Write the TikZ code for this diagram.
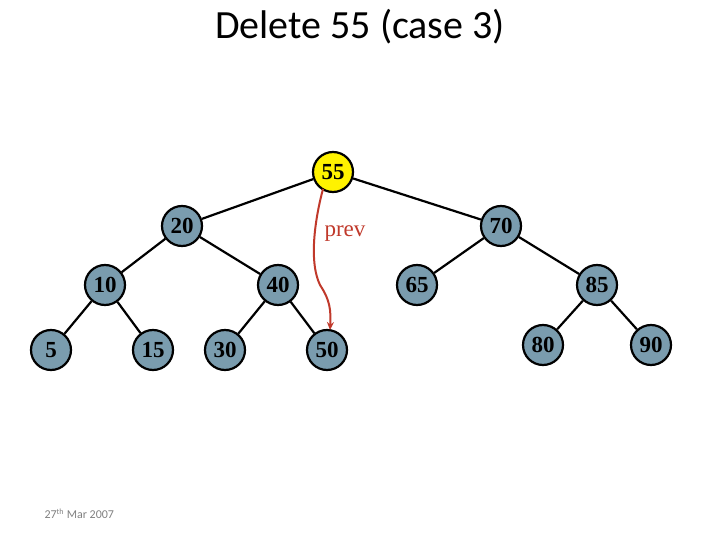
\documentclass[tikz,border=0pt]{standalone}
\usepackage{fontspec}
\setmainfont{Liberation Serif}
\newfontfamily\calib{Carlito}
\usetikzlibrary{arrows.meta}
\definecolor{nodeblue}{RGB}{122,156,174}
\definecolor{arrred}{RGB}{192,57,43}
\definecolor{dategray}{RGB}{128,128,128}
\tikzset{
  tnode/.style={circle,draw=black,line width=2.2pt,fill=nodeblue,minimum size=40pt,inner sep=0pt,font=\fontsize{23}{23}\selectfont\bfseries},
  hl/.style={fill=yellow},
  edge/.style={line width=2.2pt,black},
  prevarrow/.style={line width=2pt,arrred,-{Stealth[length=8pt,width=7pt]}}
}
\begin{document}
\begin{tikzpicture}[x=1pt,y=-1pt]
\useasboundingbox (0,0) rectangle (720,540);
\node[font=\calib\fontsize{40}{40}\selectfont] (title) at (360,27) {Delete 55 (case 3)};
\node[tnode,hl] (n55) at (333,172) {55};
\node[tnode] (n20) at (182,226) {20};
\node[tnode] (n70) at (501,226) {70};
\node[tnode] (n10) at (105,285) {10};
\node[tnode] (n40) at (278,285) {40};
\node[tnode] (n65) at (417,285) {65};
\node[tnode] (n85) at (597,285) {85};
\node[tnode] (n5) at (51,350) {5};
\node[tnode] (n15) at (153,350) {15};
\node[tnode] (n30) at (225,350) {30};
\node[tnode] (n50) at (327,350) {50};
\node[tnode] (n80) at (543,345) {80};
\node[tnode] (n90) at (651,345) {90};
\draw[edge] (n55) -- (n20);
\draw[edge] (n55) -- (n70);
\draw[edge] (n20) -- (n10);
\draw[edge] (n20) -- (n40);
\draw[edge] (n10) -- (n5);
\draw[edge] (n10) -- (n15);
\draw[edge] (n40) -- (n30);
\draw[edge] (n40) -- (n50);
\draw[edge] (n70) -- (n65);
\draw[edge] (n70) -- (n85);
\draw[edge] (n85) -- (n80);
\draw[edge] (n85) -- (n90);
\coordinate (aend) at (330,330);
\draw[prevarrow] (323,189) .. controls (316,215) and (308,260) .. (320,285) .. controls (330,300) and (331,310) .. (aend);
\node[text=arrred,font=\fontsize{23}{23}\selectfont] (prev) at (345,234) {prev};
\node[text=dategray,font=\calib\fontsize{12}{12}\selectfont,anchor=west] (date) at (41,514) {27\textsuperscript{th} Mar 2007};
\end{tikzpicture}
\end{document}
